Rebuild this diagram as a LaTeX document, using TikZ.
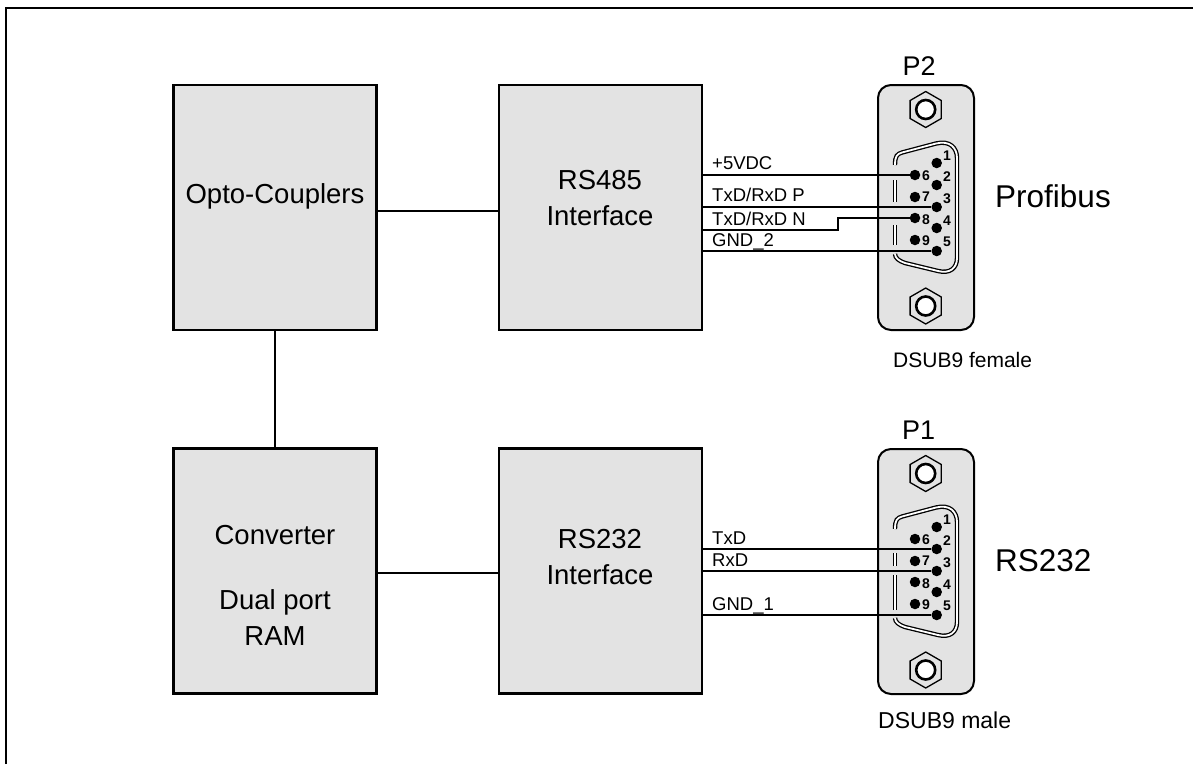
\documentclass[tikz,border=0pt]{standalone}
\usepackage{fontspec}
\setmainfont{Liberation Sans}
\usetikzlibrary{shapes.geometric}

\definecolor{boxgray}{HTML}{E3E3E3}

\newcommand{\blockfont}{\fontsize{27.5}{36}\selectfont}
\newcommand{\portfont}{\fontsize{27}{32}\selectfont}
\newcommand{\busfont}{\fontsize{31.5}{36}\selectfont}
\newcommand{\wirefont}{\fontsize{18.5}{21}\selectfont}
\newcommand{\pinfont}{\fontsize{14}{15}\selectfont\bfseries}

\begin{document}
\begin{tikzpicture}[
  x=1pt,
  y=-1pt,
  block/.style={draw, line width=2.6pt, fill=boxgray, minimum width=203pt, minimum height=245pt, outer sep=0pt},
  blocktext/.style={font=\blockfont, align=center},
  wire/.style={line width=2.8pt},
  link/.style={line width=2.3pt},
  wirelabel/.style={font=\wirefont, anchor=base west, inner sep=0pt},
  shell/.style={draw, line width=1.3pt, double=white, double distance=1.8pt},
  pin/.style={circle, fill, inner sep=0pt, minimum size=10.5pt},
  pinnum/.style={font=\pinfont, inner sep=0pt},
  screwhex/.style={draw, line width=1.3pt, regular polygon, regular polygon sides=6, shape border rotate=30, minimum size=36pt, inner sep=0pt},
  screwring/.style={draw, line width=2.6pt, circle, fill=white, minimum size=19pt, inner sep=0pt},
]

\useasboundingbox (0,0) rectangle (1193,764);

% frame, open to the right and to the bottom
\draw [line width=2.4pt] (6,764) -- (6,8) -- (1193,8);

% blocks
\node [block] (opto) at (275,207.5) {};
\node [block] (rs485) at (600.5,207.5) {};
\node [block] (conv) at (275,571) {};
\node [block] (rs232) at (600.5,571) {};

\node [blocktext] (optotext) at (275,196) {Opto-Couplers};
\node [blocktext] (rs485text) at (600,198) {RS485\\Interface};
\node [blocktext] (convtext) at (275,585) {Converter\\[29pt]Dual port\\RAM};
\node [blocktext] (rs232text) at (600,557) {RS232\\Interface};

% the two connectors
\foreach \conn/\yoff/\gapa/\gapb/\gapc/\gapd in {P2/0/180/202/225/245,P1/364/189/202/211/246} {
  \begin{scope}[shift={(0,\yoff)}]
    \node [draw, line width=2pt, fill=boxgray, rounded corners=13pt, minimum width=96pt, minimum height=245pt, outer sep=0pt] (\conn-body) at (926,207.5) {};
    \draw [shell] (895,165) .. controls (895,156) and (897,154) .. (902,152.5) -- (936,143.5)
      .. controls (950,140) and (957,148) .. (957,158) -- (957,258)
      .. controls (957,268) and (950,274) .. (938,271) -- (905,263)
      .. controls (899,261) and (895,258) .. (895,254);
    \draw [shell] (895,\gapa) -- (895,\gapb);
    \draw [shell] (895,\gapc) -- (895,\gapd);
    \node [screwhex] (\conn-topnut) at (925.7,109.5) {};
    \node [screwring] (\conn-topring) at (925.7,109.5) {};
    \node [screwhex] (\conn-botnut) at (925.7,306) {};
    \node [screwring] (\conn-botring) at (925.7,306) {};
    \foreach \n/\py in {1/163,2/185,3/207,4/228,5/251}
      \node [pin] (\conn-\n) at (936.7,\py) {};
    \foreach \n/\py in {6/175,7/197,8/218,9/240}
      \node [pin] (\conn-\n) at (915,\py) {};
    \foreach \n/\py in {1/156,2/177,3/199,4/221,5/242}
      \node [pinnum] (\conn-num\n) at (947,\py) {\n};
    \foreach \n/\py in {6/176,7/197,8/220,9/241}
      \node [pinnum] (\conn-num\n) at (926,\py) {\n};
  \end{scope}
}

\node [font=\portfont] (p2name) at (919,66) {P2};
\node [font=\portfont] (p1name) at (918.5,430) {P1};
\node [font=\busfont, anchor=base west, inner sep=0pt] (profibus) at (995,207) {Profibus};
\node [font=\busfont, anchor=base west, inner sep=0pt] (rsname) at (995,571) {RS232};
\node [font=\fontsize{21}{24}\selectfont, anchor=base west, inner sep=0pt] (female) at (893,367) {DSUB9 female};
\node [font=\fontsize{23}{24}\selectfont, anchor=base west, inner sep=0pt] (male) at (878,728) {DSUB9 male};

% links between the blocks
\coordinate (uplink) at (400,211);
\coordinate (lowlink) at (400,573);
\draw [link] (opto.east |- uplink) -- (rs485.west |- uplink);
\draw [link] (opto) -- (conv);
\draw [link] (conv.east |- lowlink) -- (rs232.west |- lowlink);

% wires to the pins
\draw [wire] (rs485.east |- P2-6) -- (P2-6);
\draw [wire] (rs485.east |- P2-3) -- (P2-3);
\coordinate (kink) at (838,230);
\draw [wire] (rs485.east |- kink) -- (kink) |- (P2-8);
\draw [wire] (rs485.east |- P2-5) -- (P2-5);
\draw [wire] (rs232.east |- P1-2) -- (P1-2);
\draw [wire] (rs232.east |- P1-3) -- (P1-3);
\draw [wire] (rs232.east |- P1-5) -- (P1-5);

\node [wirelabel] (l5v) at (712,169) {+5VDC};
\node [wirelabel] (ltxp) at (712,201.5) {TxD/RxD P};
\node [wirelabel] (ltxn) at (712,225) {TxD/RxD N};
\node [wirelabel] (lgnd2) at (712,246.5) {GND\_2};
\node [wirelabel] (ltxd) at (712,544) {TxD};
\node [wirelabel] (lrxd) at (712,566.5) {RxD};
\node [wirelabel] (lgnd1) at (712,610.5) {GND\_1};

\end{tikzpicture}
\end{document}
